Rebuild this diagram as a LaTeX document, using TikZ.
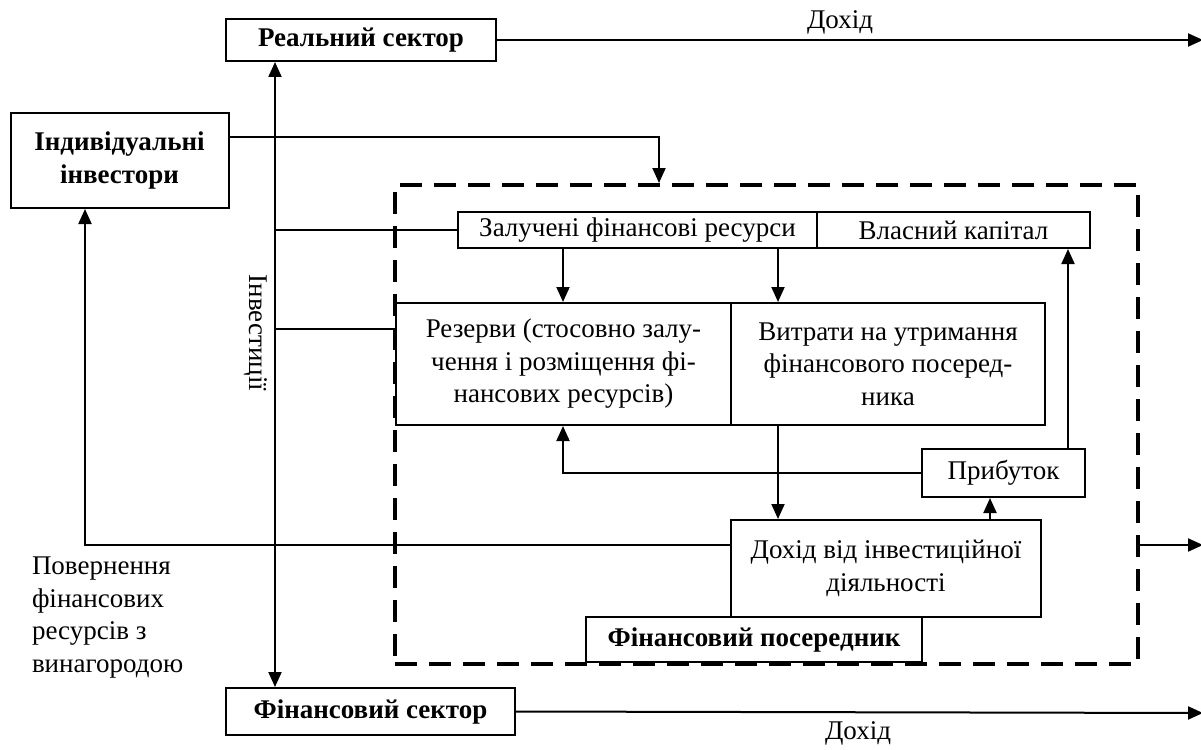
\documentclass[tikz,border=0pt]{standalone}
\usepackage{fontspec}
\setmainfont{Liberation Serif}
\usetikzlibrary{arrows.meta}
\begin{document}
\begin{tikzpicture}[x=1pt, y=-1pt, line width=2pt,
    font=\fontsize{27}{32.5}\selectfont,
    box/.style = {draw, line width=2pt, inner sep=0pt, align=center},
    bbox/.style = {box, font=\fontsize{27}{32.5}\selectfont\bfseries},
    arr/.style = {-{Triangle[length=15pt,width=13pt]}},
    arrs/.style = {{Triangle[length=15pt,width=13pt]}-{Triangle[length=15pt,width=13pt]}}]
    \useasboundingbox (0,0) rectangle (1201,749);
    % helper coordinates
    \coordinate (spine) at (275,0);
    \coordinate (xa) at (563,0);
    \coordinate (xb) at (778,0);
    \coordinate (xc) at (1068,0);
    \coordinate (xd) at (990,0);
    \coordinate (xe) at (85,0);
    \coordinate (xf) at (659,0);
    \coordinate (out1) at (1203,40);
    \coordinate (out2) at (1203,545);
    \coordinate (out3) at (1203,713);
    % outer boxes
    \node[bbox, minimum width=218pt, minimum height=95pt] (indiv) at (119.5,160.5) {Індивідуальні\\інвестори};
    \node[bbox, minimum width=270pt, minimum height=42pt] (real) at (361,40) {Реальний сектор};
    \node[bbox, minimum width=289pt, minimum height=47pt] (fin) at (370.5,711.5) {Фінансовий сектор};
    % intermediary
    \node[draw, line width=4pt, dash pattern=on 22pt off 12pt, inner sep=0pt,
          minimum width=743pt, minimum height=479pt] (frame) at (766.5,424.5) {};
    \node[box, minimum width=359pt, minimum height=36pt] (zaluch) at (637.5,230) {Залучені фінансові ресурси};
    \node[box, minimum width=273pt, minimum height=36pt] (vlasn) at (953.5,230) {Власний капітал};
    \node[box, minimum width=335pt, minimum height=122pt] (rezerv) at (563.5,364) {Резерви (стосовно залу-\\чення і розміщення фі-\\нансових ресурсів)};
    \node[box, minimum width=314pt, minimum height=122pt] (vytr) at (888,364) {Витрати на утримання\\фінансового посеред-\\ника};
    \node[box, minimum width=163pt, minimum height=48pt] (prib) at (1003.5,473) {Прибуток};
    \node[box, minimum width=310pt, minimum height=97pt] (dokhid) at (886,568.5) {Дохід від інвестиційної\\діяльності};
    \node[bbox, minimum width=336pt, minimum height=45pt] (posered) at (754,639.5) {Фінансовий посередник};
    % labels
    \node (inc1) at (840,22) {Дохід};
    \node (inc2) at (858,733) {Дохід};
    \node[rotate=-90] (invest) at (256,333) {Інвестиції};
    \node[anchor=north west, inner sep=0pt, align=left] (ret) at (31,556) {Повернення\\фінансових\\ресурсів з\\винагородою};
    % connectors
    \draw[arr] (real.east) -- (out1);
    \draw[arr] (fin.east) -- (out3);
    \draw[arr] ([yshift=-120.5pt]frame.east) -- (out2);
    \draw[arrs] (real.south -| spine) -- (fin.north -| spine);
    \draw (spine |- zaluch.west) -- (zaluch.west);
    \draw ([yshift=35pt]rezerv.west -| spine) -- ([yshift=35pt]rezerv.west);
    \draw[arr] ([yshift=23.5pt]indiv.east) -| (frame.north -| xf);
    \draw[arr] (zaluch.south -| xa) -- (rezerv.north -| xa);
    \draw[arr] (zaluch.south -| xb) -- (vytr.north -| xb);
    \draw[arr] (vytr.south -| xb) -- (dokhid.north -| xb);
    \draw[arr] (prib.west) -| (rezerv.south -| xa);
    \draw[arr] (prib.north -| xc) -- (vlasn.south -| xc);
    \draw[arr] (dokhid.north -| xd) -- (prib.south -| xd);
    \draw[arr] ([yshift=23.5pt]dokhid.west) -| (indiv.south -| xe);
\end{tikzpicture}
\end{document}
